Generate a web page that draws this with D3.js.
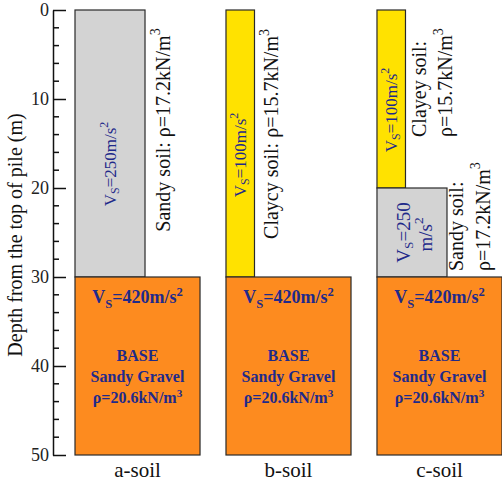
<!DOCTYPE html>
<html><head><meta charset="utf-8">
<script src="https://cdn.jsdelivr.net/npm/d3@7"></script>
<style>body{margin:0;background:#fff}svg{display:block}</style>
</head><body><svg id="c" width="502" height="486"></svg>
<script>
// ---- data ----
const soils = ["a-soil", "b-soil", "c-soil"];
const layerSoil   = ["a-soil", "a-soil", "b-soil", "b-soil", "c-soil", "c-soil", "c-soil"];
const layerType   = ["sandy", "base", "clayey", "base", "clayey", "sandy", "base"];
const layerName   = ["Sandy soil", "Sandy Gravel", "Claycy soil", "Sandy Gravel", "Clayey soil", "Sandy soil", "Sandy Gravel"];
const layerTop    = [0, 30, 0, 30, 0, 20, 30];
const layerBottom = [30, 50, 30, 50, 20, 30, 50];
const layerVs     = [250, 420, 100, 420, 100, 250, 420];
const layerRho    = [17.2, 20.6, 15.7, 20.6, 15.7, 17.2, 20.6];
const depthTicks  = [0, 10, 20, 30, 40, 50];
const depthMinor  = [2, 4, 6, 8, 12, 14, 16, 18, 22, 24, 26, 28, 32, 34, 36, 38, 42, 44, 46, 48];
const yTitle = "Depth from the top of pile (m)";

// ---- style / layout ----
const fill = {sandy: "#d3d3d3", clayey: "#ffe200", base: "#fd8b1f"};
const widthFrac = {sandy: 0.56, clayey: 0.228, base: 1};
const blue = "#1f2a8a";
const serif = "'Liberation Serif','Times New Roman',serif";

const svg = d3.select("#c");
const y = d3.scaleLinear().domain([0, 50]).range([10, 455]);
const x = d3.scaleBand().domain(soils).range([75, 502]).paddingInner(0.172).paddingOuter(0);

const layers = layerSoil.map((s, i) => ({soil: s, type: layerType[i], name: layerName[i],
  top: layerTop[i], bottom: layerBottom[i], vs: layerVs[i], rho: layerRho[i]}));

// rects
svg.append("g").selectAll("rect").data(layers).join("rect")
  .attr("x", d => x(d.soil))
  .attr("y", d => y(d.top))
  .attr("width", d => x.bandwidth() * widthFrac[d.type])
  .attr("height", d => y(d.bottom) - y(d.top))
  .attr("fill", d => fill[d.type])
  .attr("stroke", "#2a2a2a").attr("stroke-width", 1.2);

// axis
const axis = d3.axisLeft(y).tickValues(depthTicks).tickSizeInner(-13).tickSizeOuter(0).tickPadding(4);
const ax = svg.append("g").attr("transform", "translate(53,0)").call(axis);
ax.select(".domain").attr("stroke", "#111").attr("stroke-width", 1.5);
ax.selectAll(".tick line").attr("stroke", "#111").attr("stroke-width", 1.5);
ax.selectAll(".tick text").attr("font-family", serif).attr("font-size", 18).attr("fill", "#222");
ax.append("g").selectAll("line").data(depthMinor).join("line")
  .attr("x1", 0).attr("x2", 6).attr("y1", d => y(d)).attr("y2", d => y(d))
  .attr("stroke", "#111").attr("stroke-width", 1.5);

svg.append("text").attr("transform", "translate(15,235) rotate(-90)")
  .attr("text-anchor", "middle").attr("dominant-baseline", "central")
  .attr("font-family", serif).attr("font-size", 20).attr("fill", "#111").text(yTitle);

// category labels
svg.append("g").selectAll("text").data(soils).join("text")
  .attr("x", d => x(d) + x.bandwidth() / 2).attr("y", 477)
  .attr("text-anchor", "middle").attr("font-family", serif).attr("font-size", 21).attr("fill", "#111")
  .text(d => d);

// rich text helper: parts = [[text, mode]] mode: 0 normal, 1 sub, 2 sup
function rich(g, parts, fs) {
  let shift = 0;
  parts.forEach(([t, m]) => {
    const target = m === 1 ? fs * 0.28 : m === 2 ? -fs * 0.38 : 0;
    g.append("tspan").attr("dy", target - shift)
      .attr("font-size", m ? fs * 0.7 : fs).text(t);
    shift = target;
  });
}
function vsParts(vs) { return [["V", 0], ["S", 1], ["=" + vs + "m/s", 0], ["2", 2]]; }
function rhoParts(name, rho) { return [[(name ? name + ": " : "") + "\u03c1=" + rho + "kN/m", 0], ["3", 2]]; }

function rotText(px, py, anchor, parts, fs, color, weight) {
  const t = svg.append("text").attr("transform", `translate(${px},${py}) rotate(-90)`)
    .attr("text-anchor", anchor).attr("dominant-baseline", "central")
    .attr("font-family", serif).attr("font-size", fs).attr("fill", color);
  if (weight) t.attr("font-weight", weight);
  rich(t, parts, fs);
  return t;
}
function cx(d) { return x(d.soil) + x.bandwidth() * widthFrac[d.type] / 2; }
function rightEdge(d) { return x(d.soil) + x.bandwidth() * widthFrac[d.type]; }

// a-soil sandy
{ const d = layers[0];
  rotText(cx(d), y(d.top) + 154, "middle", vsParts(d.vs), 17, blue);
  rotText(rightEdge(d) + 18, y(d.top) + 120, "middle", rhoParts(d.name, d.rho), 20, "#111"); }
// b-soil clayey
{ const d = layers[2];
  rotText(cx(d), y(d.top) + 145, "middle", vsParts(d.vs), 17, blue);
  rotText(rightEdge(d) + 17, y(d.top) + 124, "middle", rhoParts(d.name, d.rho), 20, "#111"); }
// c-soil clayey
{ const d = layers[4];
  rotText(cx(d), y(d.top) + 100, "middle", vsParts(d.vs), 17, blue);
  rotText(rightEdge(d) + 14, y(d.top) + 127, "start", [[d.name + ":", 0]], 20, "#111");
  rotText(rightEdge(d) + 40, y(d.top) + 127, "start", rhoParts("", d.rho), 20, "#111"); }
// c-soil sandy
{ const d = layers[5]; const m = (y(d.top) + y(d.bottom)) / 2;
  rotText(cx(d) - 9, m, "middle", [["V", 0], ["S", 1], ["=" + d.vs, 0]], 19, blue);
  rotText(cx(d) + 13, m + 2, "middle", [["m/s", 0], ["2", 2]], 19, blue);
  rotText(rightEdge(d) + 9, y(d.bottom) - 6, "start", [[d.name + ":", 0]], 20, "#111");
  rotText(rightEdge(d) + 36, y(d.bottom) - 6, "start", rhoParts("", d.rho), 20, "#111"); }

// base layers
layers.filter(d => d.type === "base").forEach(d => {
  const c = x(d.soil) + x.bandwidth() / 2;
  const g = svg.append("g").attr("font-family", serif).attr("font-weight", "bold").attr("fill", blue)
    .attr("text-anchor", "middle");
  rich(g.append("text").attr("x", c).attr("y", y(d.top) + 26), vsParts(d.vs), 18);
  g.append("text").attr("x", c).attr("y", y(d.top) + 84).attr("font-size", 16).text("BASE");
  g.append("text").attr("x", c).attr("y", y(d.top) + 105).attr("font-size", 16).text(d.name);
  rich(g.append("text").attr("x", c).attr("y", y(d.top) + 126), rhoParts("", d.rho), 16);
});
</script></body></html>
